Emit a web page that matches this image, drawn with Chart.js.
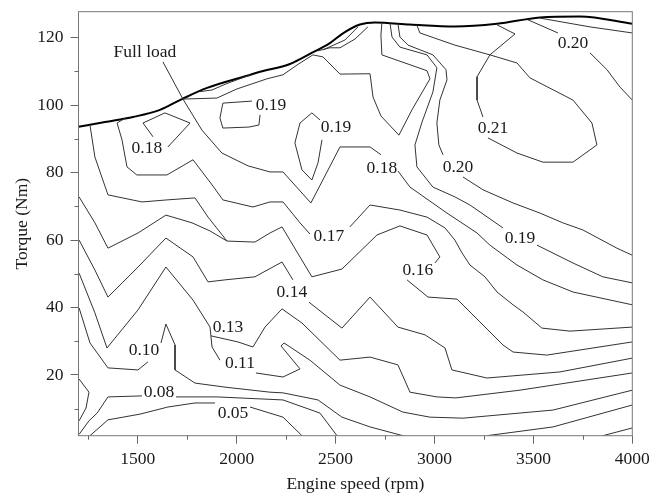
<!DOCTYPE html>
<html>
<head>
<meta charset="utf-8">
<script src="https://cdn.jsdelivr.net/npm/chart.js@4.4.1/dist/chart.umd.min.js"></script>
<style>
    html, body { margin: 0; padding: 0; background: #fff; }
    #chart { display: block; }
</style>
</head>
<body>
<canvas id="chart" width="649" height="495"></canvas>
<script>
// axis ticks
const xTicks = [1500, 2000, 2500, 3000, 3500, 4000];
const xMinorTicks = [1250, 1750, 2250, 2750, 3250, 3750];
const yTicks = [20, 40, 60, 80, 100, 120];
const yMinorTicks = [10, 30, 50, 70, 90, 110];

// full load curve, [rpm, Nm]
const fullLoad = [[1200, 93.6], [1334, 95.0], [1476, 96.5], [1612, 98.6], [1723, 101.8], [1850, 105.1],
    [2052, 108.7], [2118, 109.9], [2269, 112.2], [2370, 115.2], [2471, 118.4], [2537, 121.3],
    [2623, 123.9], [2699, 124.5], [2876, 123.9], [3103, 123.3], [3316, 124.1], [3533, 126.0],
    [3735, 126.3], [4000, 124.1]];
const fullLoadLeader = [[1627, 112.8], [1728, 101.8]];

// efficiency contours, [rpm, Nm] - split where a label sits on the line
const c005a = [[1258, 2.0], [1349, 6.7], [1511, 8.4], [1652, 10.5], [1789, 11.7], [1890, 11.7]];
const c005b = [[2067, 10.5], [2234, 7.5], [2330, 2.0]];

const c008a = [[1203, 2.4], [1253, 6.4], [1294, 8.7], [1349, 13.5], [1521, 13.8]];
const c008b = [[1693, 13.5], [1900, 13.5], [2234, 12.6], [2421, 8.7], [2507, 2.0]];
const c008c = [[3851, 2.0], [4000, 4.3]];
const c008edge = [[1203, 18.8], [1253, 14.9], [1238, 10.2], [1203, 6.4]];

const c010a = [[1203, 39.9], [1258, 29.5], [1349, 22.1], [1501, 21.5], [1551, 23.9]];
const c010b = [[1617, 29.5], [1642, 35.1], [1688, 28.9], [1688, 21.5], [1789, 17.6], [1941, 16.4],
    [2168, 14.9], [2234, 14.7], [2411, 12.6], [2532, 7.5], [2674, 4.6], [2840, 2.0]];
const c010c = [[3265, 2.0], [3599, 4.6], [4000, 11.1]];

const c011a = [[1203, 50.2], [1283, 38.4], [1344, 28.0], [1501, 39.3], [1642, 52.0], [1779, 42.2],
    [1865, 34.2], [1875, 28.3], [1915, 24.4]];
const c011b = [[2097, 20.6], [2234, 19.4], [2320, 21.8], [2224, 28.6], [2239, 29.5], [2370, 24.4],
    [2522, 17.0], [2674, 13.5], [2840, 9.0], [2977, 7.5], [3144, 7.2], [3599, 9.6], [4000, 15.5]];

const c013 = [[1870, 31.6], [2006, 29.8], [2082, 28.3], [2143, 34.2], [2229, 39.6], [2330, 35.4],
    [2522, 24.4], [2674, 25.3], [2815, 23.0], [2876, 14.9], [3012, 13.5], [3108, 13.2],
    [3432, 15.5], [4000, 20.6]];

const c014a = [[1203, 60.0], [1283, 51.1], [1349, 43.1], [1501, 52.0], [1642, 60.6], [1779, 55.0],
    [1855, 47.6], [1941, 48.2], [2092, 49.1], [2229, 53.5], [2284, 48.2]];
const c014b = [[2365, 41.6], [2532, 33.9], [2674, 43.1], [2815, 34.2], [2952, 31.9], [3053, 28.0],
    [3088, 21.5], [3265, 19.1], [3634, 20.9], [4000, 25.0]];

const c016a = [[1203, 72.8], [1283, 65.1], [1349, 57.6], [1501, 62.1], [1642, 67.4], [1774, 65.1],
    [1865, 62.7], [1951, 59.7], [2092, 59.4], [2168, 62.1], [2229, 63.9], [2380, 49.1],
    [2532, 51.4], [2709, 61.5], [2825, 64.2], [2962, 61.5], [3027, 55.0], [3002, 53.2]];
const c016b = [[2861, 48.2], [2967, 43.1], [3114, 42.5], [3346, 28.9], [3397, 26.8], [3568, 25.9], [4000, 29.8]];
const c016c = [[1258, 94.1], [1283, 84.6], [1349, 73.4], [1521, 71.3], [1647, 71.9], [1789, 72.5],
    [1855, 66.8], [1951, 59.7]];

const c017a = [[1435, 96.1], [1395, 94.7], [1420, 89.7], [1445, 81.7], [1495, 79.3], [1647, 79.3],
    [1779, 83.8], [1880, 76.0], [1930, 71.9], [2082, 69.8], [2168, 71.3], [2234, 71.3],
    [2320, 65.1], [2370, 61.8]];
const c017b = [[2572, 63.9], [2674, 70.4], [2825, 68.9], [2962, 66.8], [3053, 63.6], [3103, 60.0],
    [3139, 56.2], [3179, 52.6], [3255, 49.1], [3316, 44.6], [3397, 40.8], [3447, 38.7],
    [3543, 33.9], [3685, 33.0], [4000, 34.2]];

const c018a = [[1728, 101.8], [1824, 92.6], [1925, 85.8], [2057, 82.0], [2168, 80.2], [2234, 80.2],
    [2375, 71.0], [2522, 87.6], [2674, 87.6], [2729, 85.3]];
const c018b = [[2815, 80.5], [2876, 75.7], [3063, 68.0], [3215, 62.1], [3280, 58.5], [3417, 52.6],
    [3548, 48.2], [3700, 44.6], [4000, 40.8]];
const c018island = [[1652, 87.6], [1764, 94.7], [1637, 97.7], [1526, 94.7], [1577, 90.6]];

const c019loop = [[1728, 101.8], [1900, 102.1], [2001, 104.8], [2153, 107.8], [2234, 109.0],
    [2305, 111.9], [2385, 114.9], [2436, 114.3], [2522, 109.2], [2674, 109.3], [2689, 102.4],
    [2729, 96.8], [2820, 91.1], [2886, 98.6], [2977, 107.8], [2962, 110.2], [2734, 114.9],
    [2729, 120.8], [2734, 124.4]];
const c019a = [[2775, 124.3], [2785, 120.2], [2825, 117.2], [2962, 114.9], [3012, 111.1], [2992, 103.9],
    [2937, 95.0], [2901, 88.2], [2911, 81.7], [2992, 75.7], [3103, 72.8], [3179, 70.4], [3346, 63.6]];
const c019b = [[3518, 58.5], [3700, 53.2], [3851, 49.1], [4000, 47.3]];
const c019islandA = [[2118, 97.1], [2112, 94.1], [2062, 93.5], [1930, 93.2], [1915, 96.2], [1930, 100.6], [2077, 101.2]];
const c019islandB = [[2421, 95.6], [2380, 97.7], [2320, 94.7], [2294, 88.8], [2330, 80.8], [2380, 77.8],
    [2411, 82.9], [2431, 89.7]];

const c020a = [[2815, 124.2], [2825, 120.2], [2866, 117.8], [2992, 114.9], [3058, 110.5], [3063, 107.5],
    [3027, 101.5], [3012, 94.7], [3022, 88.2], [3043, 85.3]];
const c020b = [[3144, 78.7], [3245, 74.9], [3397, 71.0], [3533, 68.0], [3649, 65.1], [3750, 63.0],
    [3922, 57.6], [4000, 55.5]];
const c020topA = [[3472, 125.3], [3624, 121.4]];
const c020topB = [[3786, 115.5], [3872, 110.5], [3937, 105.4], [4000, 101.5]];
const c020topEdge = [[3533, 125.8], [3786, 123.2], [4000, 121.4]];

const c021a = [[2911, 123.7], [2926, 121.4], [3103, 117.8], [3280, 114.9], [3215, 108.4], [3215, 101.5], [3245, 96.5]];
const c021b = [[3270, 90.3], [3417, 85.8], [3548, 83.1], [3700, 83.1], [3821, 88.2], [3796, 94.7],
    [3700, 101.5], [3482, 108.1], [3417, 112.5], [3280, 114.9], [3407, 121.1], [3316, 123.8]];

// thin slivers just under the full load curve
const sliverA = [[1814, 104.0], [1875, 104.5], [1946, 106.3], [2042, 108.4], [2077, 109.0]];
const sliverB = [[2411, 116.1], [2471, 117.0], [2522, 117.0], [2598, 119.6], [2663, 123.2]];
const sliverC = [[2436, 116.4], [2547, 119.3], [2613, 123.2]];

const contourLines = [c005a, c005b, c008a, c008b, c008c, c008edge, c010a, c010b, c010c, c011a, c011b,
    c013, c014a, c014b, c016a, c016b, c016c, c017a, c017b, c018a, c018b, c018island,
    c019loop, c019a, c019b, c019islandA, c019islandB, c020a, c020b, c020topA, c020topB, c020topEdge,
    c021a, c021b, sliverA, sliverB, sliverC];

const contourLabels = [
    { text: "0.05", rpm: 1981, torque: 8.7 },
    { text: "0.08", rpm: 1607, torque: 14.9 },
    { text: "0.10", rpm: 1531, torque: 27.4 },
    { text: "0.11", rpm: 2016, torque: 23.3 },
    { text: "0.13", rpm: 1956, torque: 34.2 },
    { text: "0.14", rpm: 2279, torque: 44.6 },
    { text: "0.16", rpm: 2916, torque: 51.1 },
    { text: "0.17", rpm: 2466, torque: 61.2 },
    { text: "0.18", rpm: 2734, torque: 81.3 },
    { text: "0.18", rpm: 1546, torque: 87.3 },
    { text: "0.19", rpm: 2173, torque: 100.0 },
    { text: "0.19", rpm: 2502, torque: 93.5 },
    { text: "0.19", rpm: 3432, torque: 60.6 },
    { text: "0.20", rpm: 3119, torque: 81.6 },
    { text: "0.20", rpm: 3700, torque: 118.4 },
    { text: "0.21", rpm: 3296, torque: 93.2 },
    { text: "Full load", rpm: 1536, torque: 115.5 }
];

const FONT = "Liberation Serif";

function toPoints(line) {
    return line.map(p => ({ x: p[0], y: p[1] }));
}

const datasets = contourLines.map(line => ({
    data: toPoints(line),
    showLine: true,
    borderColor: "#333",
    borderWidth: 1,
    pointRadius: 0,
    tension: 0
}));

datasets.push({
    data: toPoints(fullLoadLeader),
    showLine: true,
    borderColor: "#333",
    borderWidth: 1,
    pointRadius: 0
});

datasets.push({
    data: toPoints(fullLoad),
    showLine: true,
    borderColor: "#000",
    borderWidth: 2,
    pointRadius: 0,
    cubicInterpolationMode: "monotone"
});

// frame, minor ticks and contour labels
const decorPlugin = {
    id: "decor",
    afterDatasetsDraw(chart) {
        const { ctx, chartArea, scales } = chart;
        const x = scales.x, y = scales.y;
        ctx.save();

        ctx.strokeStyle = "#777";
        ctx.lineWidth = 1;
        ctx.strokeRect(chartArea.left, chartArea.top,
            chartArea.right - chartArea.left, chartArea.bottom - chartArea.top);

        ctx.strokeStyle = "#666";
        ctx.beginPath();
        xMinorTicks.forEach(v => {
            const px = Math.round(x.getPixelForValue(v)) + 0.5;
            ctx.moveTo(px, chartArea.bottom);
            ctx.lineTo(px, chartArea.bottom + 4);
        });
        yMinorTicks.forEach(v => {
            const py = Math.round(y.getPixelForValue(v)) + 0.5;
            ctx.moveTo(chartArea.left, py);
            ctx.lineTo(chartArea.left - 4, py);
        });
        ctx.stroke();

        ctx.font = `17.5px "${FONT}"`;
        ctx.fillStyle = "#1a1a1a";
        ctx.textAlign = "center";
        ctx.textBaseline = "middle";
        contourLabels.forEach(l => {
            ctx.fillText(l.text, x.getPixelForValue(l.rpm), y.getPixelForValue(l.torque));
        });
        ctx.restore();
    }
};

new Chart(document.getElementById("chart"), {
    type: "scatter",
    data: { datasets: datasets },
    plugins: [decorPlugin],
    options: {
        responsive: false,
        animation: false,
        events: [],
        layout: { padding: { top: 11.7, right: 16.7, left: 0, bottom: 0 } },
        plugins: {
            legend: { display: false },
            tooltip: { enabled: false }
        },
        scales: {
            x: {
                type: "linear",
                min: 1200,
                max: 4000,
                afterBuildTicks: axis => { axis.ticks = xTicks.map(v => ({ value: v })); },
                afterFit: scale => {
                    scale.height = 59.3;
                    scale.paddingLeft = 0;
                    scale.paddingRight = 0;
                },
                border: { display: false },
                grid: { drawOnChartArea: false, drawTicks: true, tickLength: 8, tickColor: "#666" },
                ticks: {
                    padding: 5,
                    maxRotation: 0,
                    color: "#1a1a1a",
                    font: { family: FONT, size: 17.5 },
                    callback: v => String(v)
                },
                title: {
                    display: true,
                    text: "Engine speed (rpm)",
                    color: "#1a1a1a",
                    font: { family: FONT, size: 17.5 },
                    padding: { top: 0, bottom: 0 }
                }
            },
            y: {
                type: "linear",
                min: 2,
                max: 127.7,
                afterBuildTicks: axis => { axis.ticks = yTicks.map(v => ({ value: v })); },
                afterFit: scale => {
                    scale.width = 78.5;
                    scale.paddingTop = 0;
                    scale.paddingBottom = 0;
                },
                border: { display: false },
                grid: { drawOnChartArea: false, drawTicks: true, tickLength: 8, tickColor: "#666" },
                ticks: {
                    padding: 7,
                    color: "#1a1a1a",
                    font: { family: FONT, size: 17.5 },
                    callback: v => String(v)
                },
                title: {
                    display: true,
                    text: "Torque (Nm)",
                    color: "#1a1a1a",
                    font: { family: FONT, size: 17.5 },
                    padding: { top: 12, bottom: 0 }
                }
            }
        }
    }
});
</script>
</body>
</html>
